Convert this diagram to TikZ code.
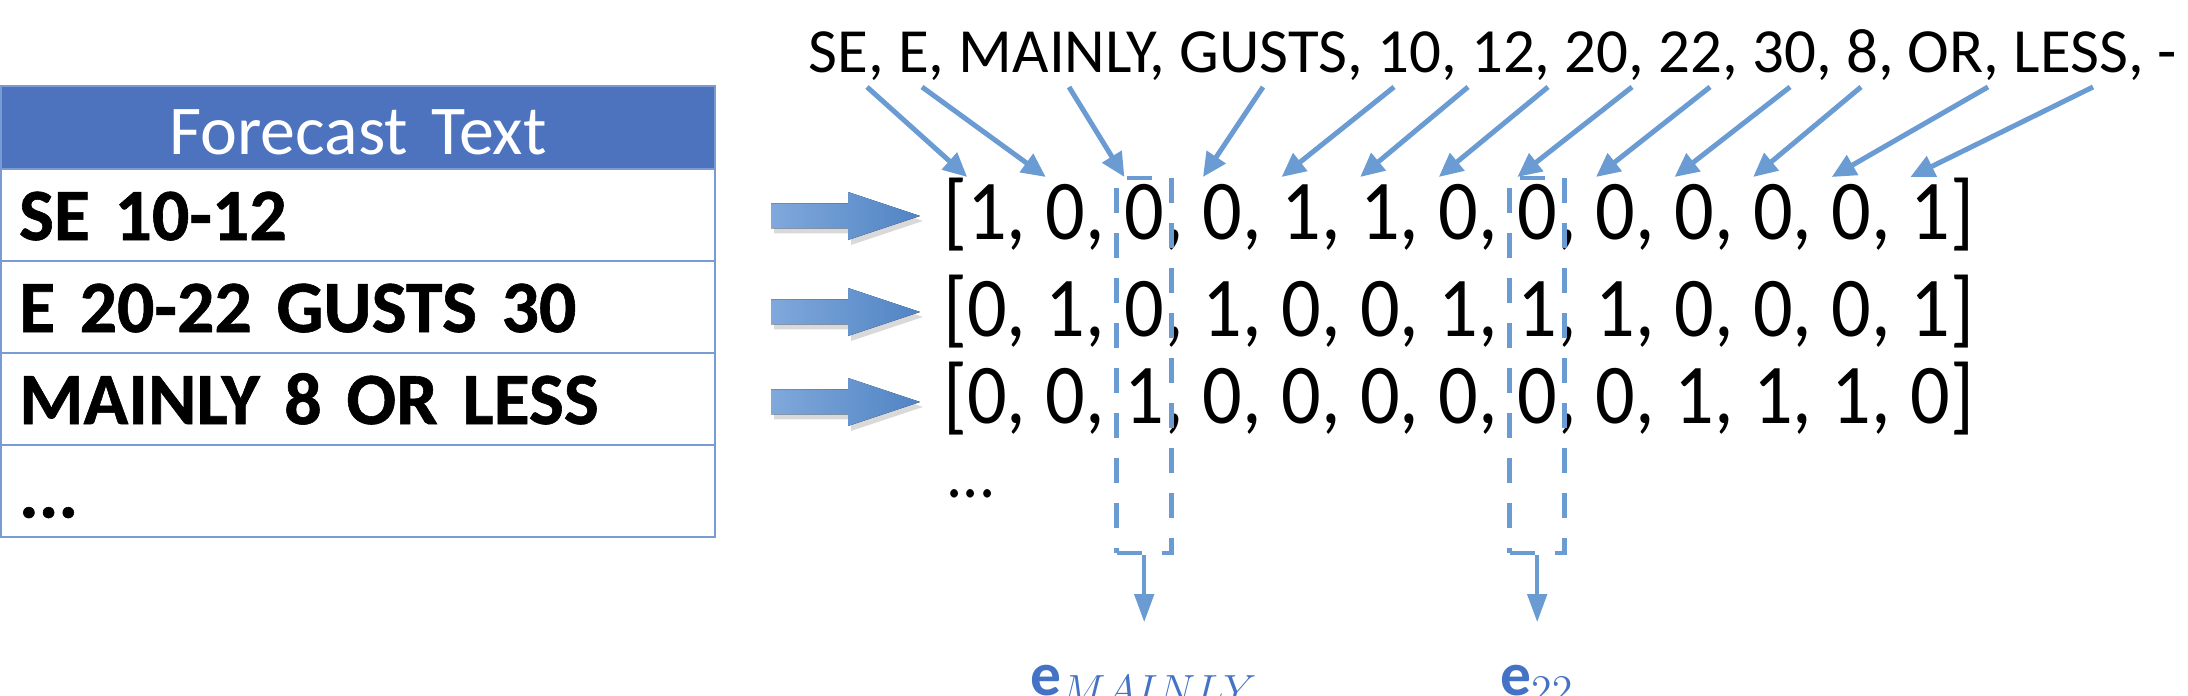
\documentclass[tikz,border=0pt]{standalone}
\usepackage{fontspec}
\setmainfont{Carlito}
\newfontfamily\vecfont[FakeStretch=0.92]{Carlito}
\newfontfamily\rowfam[UprightFont=*-Bold, FakeBold=0.8]{Carlito}
\usepackage{tikz}
\usetikzlibrary{matrix, positioning, arrows.meta, shadows}
\definecolor{headc}{RGB}{78,115,190}
\definecolor{tablec}{RGB}{120,155,212}
\definecolor{arrc}{RGB}{106,155,210}
\definecolor{arrl}{RGB}{128,168,219}
\definecolor{arrd}{RGB}{80,132,196}
\definecolor{labc}{RGB}{68,114,196}
\protected\def\rowfont{\rowfam\fontsize{21}{25}\selectfont\spaceskip=0.16em\relax}

\begin{document}
\begin{tikzpicture}[
	tokarrow/.style={arrc, line width=0.05cm, -{Triangle[length=0.24cm, width=0.22cm]}},
	selbox/.style={draw=arrc, line width=0.045cm, dash pattern=on 0.25cm off 0.2cm, minimum width=0.55cm, minimum height=3.75cm, inner sep=0},
	selarrow/.style={arrc, line width=0.045cm, -{Triangle[length=0.28cm, width=0.19cm]}},
	entry/.style={inner sep=0, outer sep=0, font=\vecfont\fontsize{24.2}{29}\selectfont, text height=0.63cm, text depth=0cm, anchor=base},
	blockarrow/.style={left color=arrl, right color=arrd, drop shadow={shadow xshift=0.03cm, shadow yshift=-0.05cm, opacity=0.3}},
	elab/.style={inner sep=0, text=labc, font=\fontsize{17.5}{21}\selectfont}
	]
		\useasboundingbox (0,0) rectangle (21.88,6.96);
		\clip (0,0) rectangle (21.88,6.96);
		
		% table of forecast texts
		\matrix (fc) [matrix of nodes, anchor=north west, inner sep=0, outer sep=0,
		row sep=-0.6pt,
		nodes={draw=tablec, line width=0.6pt, text width=6.78cm, inner xsep=0.18cm, inner ysep=0,
			minimum height=0.92cm, align=left, text height=0.50cm, text depth=0cm,
			font=\rowfont},
		row 1/.style={nodes={fill=headc, text=white, align=center, minimum height=0.83cm,
			text height=0.53cm, font=\fontsize{19.9}{24}\selectfont}},
		row 5/.style={nodes={text height=0.53cm}}] at (0,6.11) {
			Forecast Text \\
			SE 10-12 \\
			E 20-22 GUSTS 30 \\
			MAINLY 8 OR LESS \\
			... \\
		};
		
		% block arrows
		\foreach \yc [count=\i] in {4.80,3.84,2.94} {
			\coordinate (ba\i) at (7.71,\yc);
			\fill[blockarrow] (ba\i) ++(0,0.125) -- ++(0.77,0) -- ++(0,0.115) -- ++(0.72,-0.24)
				-- ++(-0.72,-0.24) -- ++(0,0.115) -- ++(-0.77,0) -- cycle;
		}
		
		% vocabulary
		\node[inner sep=0, anchor=base west, font=\fontsize{17.9}{21}\selectfont] (toks) at (8.08,6.23)
			{SE, E, MAINLY, GUSTS, 10, 12, 20, 22, 30, 8, OR, LESS, -};
		
		% one-hot vectors
		\foreach \yb/\row [count=\r] in {4.56/{1,0,0,0,1,1,0,0,0,0,0,0,1},
			3.59/{0,1,0,1,0,0,1,1,1,0,0,0,1},
			2.72/{0,0,1,0,0,0,0,0,0,1,1,1,0}} {
			\foreach \d [count=\k] in \row {
				\node[entry] (v\r-\k) at ({9.87+0.786*(\k-1)},\yb) {\d};
				\ifnum\k<13
					\node[entry, anchor=base west] (c\r-\k) at (v\r-\k.base east) {,};
				\fi
			}
			\node[entry, anchor=base east] (lb\r) at (v\r-1.base west) {[};
			\node[entry, anchor=base west] (rb\r) at (v\r-13.base east) {]};
		}
		\node[inner sep=0, anchor=base west, font=\vecfont\fontsize{19.9}{24}\selectfont] (vdots) at (9.46,1.98) {...};
		
		% word to position
		\foreach \x [count=\k] in {8.67,9.22,10.69,12.63,13.94,14.68,15.48,16.32,17.10,17.90,18.61,19.88,20.93} {
			\coordinate (w\k) at (\x,6.09);
			\draw[tokarrow] (w\k) -- (v1-\k.north west);
		}
		
		% selected columns
		\coordinate (boxmid) at (0,3.305);
		\node[selbox] (sel3) at (v1-3 |- boxmid) {};
		\node[selbox] (sel8) at (v1-8 |- boxmid) {};
		\node[elab, below=1.09cm of sel3] (emainly) {$\mathbf{e}_{MAINLY}$};
		\node[elab, below=1.09cm of sel8] (e22) {$\mathbf{e}_{22}$};
		\draw[selarrow] (sel3.south) -- ([yshift=0.42cm]emainly.north);
		\draw[selarrow] (sel8.south) -- ([yshift=0.42cm]e22.north);
	\end{tikzpicture}
\end{document}
